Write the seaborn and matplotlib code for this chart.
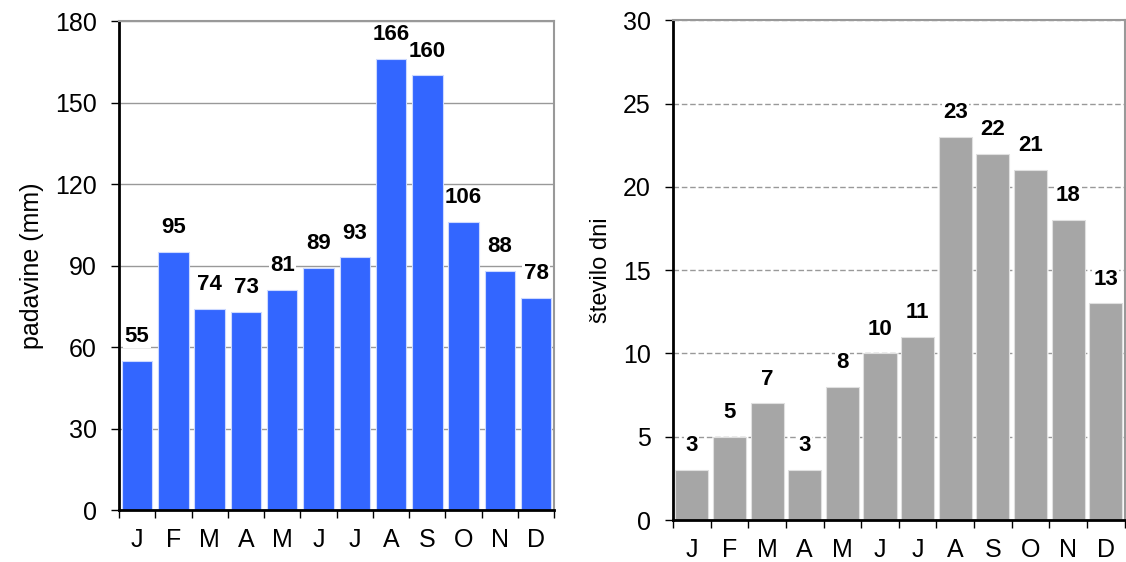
import pandas as pd
import matplotlib.pyplot as plt
import seaborn as sns
from matplotlib.ticker import MultipleLocator, FixedLocator

# Monthly data
months = ['J', 'F', 'M', 'A', 'M', 'J', 'J', 'A', 'S', 'O', 'N', 'D']
rain_mm = [55, 95, 74, 73, 81, 89, 93, 166, 160, 106, 88, 78]
rain_days = [3, 5, 7, 3, 8, 10, 11, 23, 22, 21, 18, 13]

sns.set_style('white')
plt.rcParams['font.family'] = ['Liberation Sans', 'DejaVu Sans']
plt.rcParams.update({'text.color': 'black', 'axes.labelcolor': 'black',
                     'xtick.color': 'black', 'ytick.color': 'black'})

df = pd.DataFrame({'idx': range(len(months)), 'mm': rain_mm, 'days': rain_days})

fig = plt.figure(figsize=(11.26, 5.62), dpi=100)
ax1 = fig.add_axes([0.1057, 0.0925, 0.3865, 0.870])
ax2 = fig.add_axes([0.5977, 0.0747, 0.4010, 0.8893])


def style_axis(ax, vals, ymax, step, grid_ls):
    ax.set_ylim(0, ymax)
    ax.set_xlim(-0.5, len(months) - 0.5)
    ax.yaxis.set_major_locator(MultipleLocator(step))
    ax.set_xticks(range(len(months)))
    ax.set_xticklabels(months)
    ax.xaxis.set_minor_locator(FixedLocator([i - 0.5 for i in range(len(months) + 1)]))
    ax.tick_params(axis='x', which='major', length=0, pad=13, labelsize=18)
    ax.tick_params(axis='x', which='minor', length=6, width=1, color='black', direction='out')
    ax.tick_params(axis='y', length=6, width=1, color='black', direction='out', labelsize=18, pad=10)
    ax.xaxis.set_ticks_position('bottom')
    ax.yaxis.set_ticks_position('left')
    ax.set_axisbelow(True)
    ax.yaxis.grid(True, color='#999999', linestyle=grid_ls, linewidth=1)
    ax.xaxis.grid(False)
    for s in ['left', 'bottom']:
        ax.spines[s].set_color('black')
        ax.spines[s].set_linewidth(2)
    for s in ['top', 'right']:
        ax.spines[s].set_color('#999999')
        ax.spines[s].set_linewidth(1.5)
    ax.set_xlabel('')
    for i, v in enumerate(vals):
        ax.annotate(str(v), (i, v), xytext=(0, 10), textcoords='offset points',
                    ha='center', va='bottom', fontsize=16, fontweight='bold', color='black',
                    bbox=dict(facecolor='white', edgecolor='none', pad=1))


sns.barplot(data=df, x='idx', y='mm', color='#3366FF', saturation=1, width=0.84,
            edgecolor='#CCD9FF', linewidth=0.8, ax=ax1)
style_axis(ax1, rain_mm, 180, 30, '-')
ax1.set_ylabel('padavine (mm)', fontsize=18, labelpad=8)

sns.barplot(data=df, x='idx', y='days', color='#A6A6A6', saturation=1, width=0.88,
            edgecolor='#E0E0E0', linewidth=0.8, ax=ax2)
style_axis(ax2, rain_days, 30, 5, (0, (4, 2)))
ax2.set_ylabel('število dni', fontsize=17, labelpad=8)

fig.savefig('out.png', dpi=100)
